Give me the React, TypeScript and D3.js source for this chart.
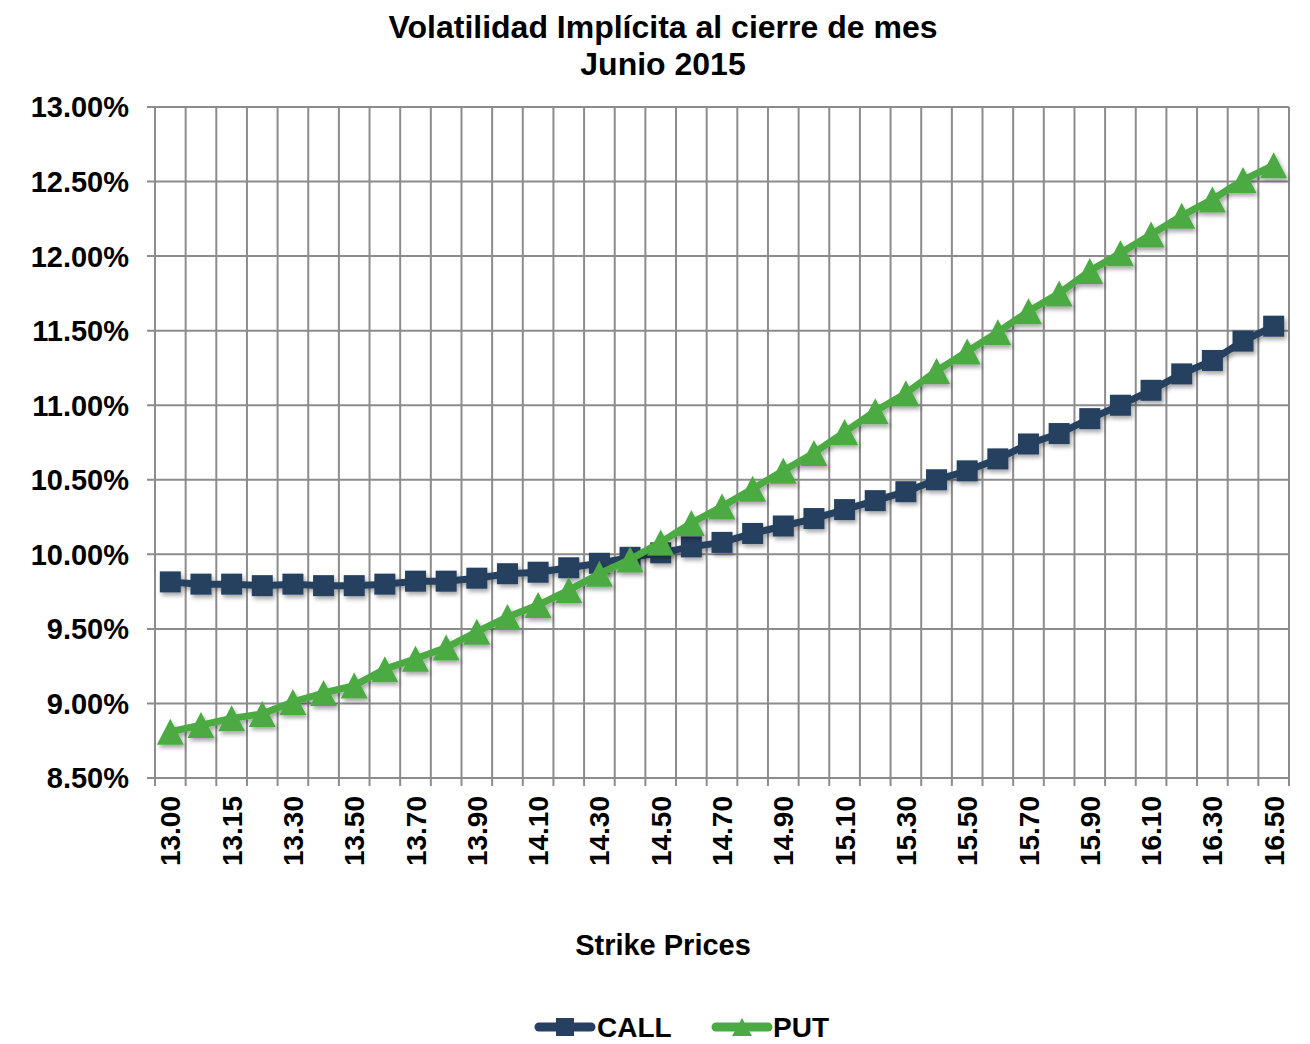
import React from "react";
import * as d3 from "d3";

const strikes: string[] = [
  "13.00", "13.10", "13.15", "13.20", "13.30", "13.40", "13.50", "13.60", "13.70", "13.80",
  "13.90", "14.00", "14.10", "14.20", "14.30", "14.40", "14.50", "14.60", "14.70", "14.80",
  "14.90", "15.00", "15.10", "15.20", "15.30", "15.40", "15.50", "15.60", "15.70", "15.80",
  "15.90", "16.00", "16.10", "16.20", "16.30", "16.40", "16.50",
];

const callVol: number[] = [
  9.815, 9.8, 9.8, 9.79, 9.8, 9.79, 9.79, 9.8, 9.82, 9.82,
  9.84, 9.87, 9.88, 9.91, 9.94, 9.98, 10.01, 10.05, 10.08, 10.14,
  10.19, 10.24, 10.3, 10.36, 10.42, 10.5, 10.56, 10.64, 10.74, 10.81,
  10.91, 11.0, 11.1, 11.21, 11.3, 11.43, 11.53,
];

const putVol: number[] = [
  8.81, 8.855, 8.9, 8.93, 9.01, 9.07, 9.12, 9.23, 9.3, 9.375,
  9.48, 9.58, 9.66, 9.76, 9.87, 9.965, 10.08, 10.21, 10.32, 10.44,
  10.56, 10.68, 10.82, 10.96, 11.08, 11.23, 11.36, 11.49, 11.63, 11.75,
  11.9, 12.02, 12.145, 12.27, 12.38, 12.51, 12.61,
];

const yTicks: number[] = [8.5, 9.0, 9.5, 10.0, 10.5, 11.0, 11.5, 12.0, 12.5, 13.0];

const titleLines: string[] = ["Volatilidad Implícita al cierre de mes", "Junio 2015"];
const xAxisTitle = "Strike Prices";
const seriesNames: string[] = ["CALL", "PUT"];

const CALL_COLOR = "#254061";
const PUT_COLOR = "#4BAB43";
const GRID = "#8c8c8c";
const FONT = "'Liberation Sans', Arial, Helvetica, sans-serif";

const W = 1310;
const H = 1044;
const M = { left: 155, right: 1289, top: 107, bottom: 778 };

export default function App() {
  const x = d3.scaleBand<string>().domain(strikes).range([M.left, M.right]).padding(0);
  const y = d3.scaleLinear().domain([8.5, 13]).range([M.bottom, M.top]);
  const bw = x.bandwidth();
  const cx = (s: string) => (x(s) as number) + bw / 2;

  const line = d3
    .line<number>()
    .x((_, i) => cx(strikes[i]))
    .y((d) => y(d));

  const boundaries = strikes.map((s) => x(s) as number).concat([M.right]);

  const sq = 21;
  const triW = 27;
  const triH = 26;
  const triPath = (px: number, py: number, w: number, h: number) =>
    `M${px},${py - h / 2}L${px + w / 2},${py + h / 2}L${px - w / 2},${py + h / 2}Z`;

  return (
    <div style={{ position: "absolute", left: 0, top: 0 }}>
      <svg width={W} height={H} style={{ display: "block", background: "#fff" }} fontFamily={FONT}>
        <defs>
          <filter id="shadow" x="-10%" y="-10%" width="120%" height="130%">
            <feDropShadow dx="2" dy="3" stdDeviation="2" floodColor="#000" floodOpacity="0.35" />
          </filter>
        </defs>

        {/* title */}
        <text x={663} y={38} textAnchor="middle" fontSize={32} fontWeight="bold" fill="#000">
          {titleLines[0]}
        </text>
        <text x={663} y={75} textAnchor="middle" fontSize={32} fontWeight="bold" fill="#000">
          {titleLines[1]}
        </text>

        {/* horizontal grid */}
        {yTicks.map((t) => (
          <line key={"h" + t} x1={M.left - 8} x2={M.right} y1={y(t)} y2={y(t)} stroke={GRID} strokeWidth={2} />
        ))}
        {/* vertical grid */}
        {boundaries.map((b, i) => (
          <line key={"v" + i} x1={b} x2={b} y1={M.top} y2={M.bottom + 8} stroke={GRID} strokeWidth={2} />
        ))}

        {/* y labels */}
        {yTicks.map((t) => (
          <text key={"yl" + t} x={129} y={y(t)} dy="0.36em" textAnchor="end" fontSize={29} fontWeight="bold" fill="#000">
            {t.toFixed(2) + "%"}
          </text>
        ))}

        {/* x labels */}
        {strikes.map((s, i) =>
          i % 2 === 0 ? (
            <text
              key={"xl" + s}
              transform={`translate(${cx(s)},796) rotate(-90)`}
              dy="0.36em"
              textAnchor="end"
              fontSize={28}
              fontWeight="bold"
              fill="#000"
            >
              {s}
            </text>
          ) : null
        )}

        {/* x axis title */}
        <text x={663} y={955} textAnchor="middle" fontSize={29} fontWeight="bold" fill="#000">
          {xAxisTitle}
        </text>

        {/* CALL series */}
        <g filter="url(#shadow)">
          <path d={line(callVol) || ""} fill="none" stroke={CALL_COLOR} strokeWidth={7} strokeLinejoin="round" />
          {callVol.map((v, i) => (
            <rect key={"c" + i} x={cx(strikes[i]) - sq / 2} y={y(v) - sq / 2} width={sq} height={sq} fill={CALL_COLOR} />
          ))}
        </g>

        {/* PUT series */}
        <g filter="url(#shadow)">
          <path d={line(putVol) || ""} fill="none" stroke={PUT_COLOR} strokeWidth={7} strokeLinejoin="round" />
          {putVol.map((v, i) => (
            <path key={"p" + i} d={triPath(cx(strikes[i]), y(v), triW, triH)} fill={PUT_COLOR} />
          ))}
        </g>

        {/* legend */}
        <g>
          <line x1={539} x2={591} y1={1027} y2={1027} stroke={CALL_COLOR} strokeWidth={9} strokeLinecap="round" />
          <rect x={565 - 9} y={1027 - 9} width={18} height={18} fill={CALL_COLOR} />
          <text x={597} y={1037} fontSize={28} fontWeight="bold" fill="#000">
            {seriesNames[0]}
          </text>
          <line x1={716} x2={768} y1={1027} y2={1027} stroke={PUT_COLOR} strokeWidth={9} strokeLinecap="round" />
          <path d={triPath(742, 1027, 20, 18)} fill={PUT_COLOR} />
          <text x={773} y={1037} fontSize={28} fontWeight="bold" fill="#000">
            {seriesNames[1]}
          </text>
        </g>
      </svg>
    </div>
  );
}
